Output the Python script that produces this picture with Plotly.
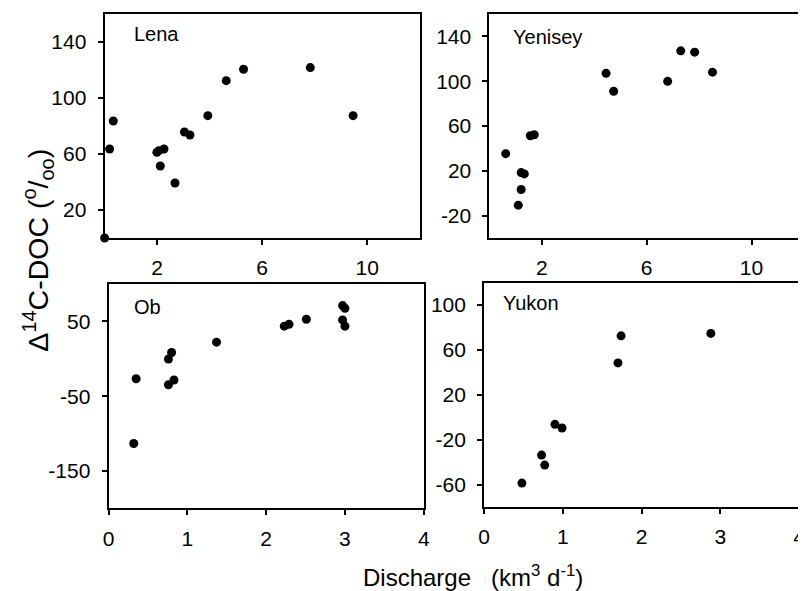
import plotly.graph_objects as go

# ---- data ----
lena_x = [0.0, 0.19, 0.33, 1.99, 2.07, 2.26, 2.12, 2.68, 3.04, 3.25, 3.93, 4.63, 5.29, 7.83, 9.46]
lena_y = [0.0, 63.6, 83.6, 61.2, 62.4, 63.6, 51.4, 39.3, 75.7, 73.6, 87.4, 112.4, 120.5, 121.7, 87.4]

yenisey_x = [0.62, 1.10, 1.21, 1.21, 1.33, 1.56, 1.71, 4.45, 4.74, 6.80, 7.30, 7.83, 8.51]
yenisey_y = [35.3, -10.7, 3.3, 18.4, 17.2, 51.3, 52.2, 107.0, 91.0, 99.9, 127.1, 125.9, 108.1]

ob_x = [0.32, 0.35, 0.76, 0.83, 0.76, 0.80, 1.37, 2.23, 2.29, 2.51, 2.97, 3.00, 2.97, 3.00]
ob_y = [-113.3, -26.7, -34.7, -28.4, -0.4, 8.4, 22.2, 43.6, 46.2, 52.9, 71.1, 67.6, 52.0, 43.6]

yukon_x = [0.48, 0.73, 0.77, 0.90, 0.99, 1.70, 1.74, 2.88]
yukon_y = [-58.7, -33.7, -42.6, -6.3, -9.6, 48.5, 72.6, 74.8]

rivers = ["Lena", "Yenisey", "Ob", "Yukon"]

lena_xticks = [2, 6, 10]
lena_yticks = [20, 60, 100, 140]
yenisey_xticks = [2, 6, 10]
yenisey_yticks = [-20, 20, 60, 100, 140]
ob_xticks = [0, 1, 2, 3, 4]
ob_yticks = [50, -50, -150]
yukon_xticks = [0, 1, 2, 3, 4]
yukon_yticks = [-60, -20, 20, 60, 100]

x_title = "Discharge&nbsp;&nbsp; (km<sup>3</sup> d<sup>-1</sup>)"
y_title = "\u0394<sup>14</sup>C-DOC (<sup>o</sup>/<sub>oo</sub>)"

# page has an 8px body margin: figure coordinates = screen - 8
OFF = 8
FW, FH = 806 - OFF, 591 - OFF
FONT = "Liberation Sans, Arial, sans-serif"

def px_x(v):
    return (v - OFF) / FW

def px_y(v):
    return 1 - (v - OFF) / FH

fig = go.Figure()

series = [(lena_x, lena_y), (yenisey_x, yenisey_y), (ob_x, ob_y), (yukon_x, yukon_y)]
for i, (xs, ys) in enumerate(series):
    n = "" if i == 0 else str(i + 1)
    fig.add_trace(go.Scatter(
        x=xs, y=ys, mode="markers", xaxis="x" + n, yaxis="y" + n,
        marker=dict(color="black", size=9, line=dict(width=0)),
        cliponaxis=False, showlegend=False))

common = dict(showline=True, linecolor="black", linewidth=2, ticks="outside",
              ticklen=5, tickwidth=1.5, tickcolor="black", showgrid=False,
              zeroline=False, tickfont=dict(family=FONT, size=21, color="black"))

panels = [
    dict(xd=(100, 420), yd=(14, 238), xr=[0, 12], yr=[0, 160], xt=lena_xticks, yt=lena_yticks, ymirror=True),
    dict(xd=(490.7, 806), yd=(14, 238), xr=[0, 11.85], yr=[-40, 160], xt=yenisey_xticks, yt=yenisey_yticks, ymirror=False),
    dict(xd=(104, 424), yd=(284, 508.3), xr=[0, 4], yr=[-200, 100], xt=ob_xticks, yt=ob_yticks, ymirror=True),
    dict(xd=(485.3, 805), yd=(282.7, 507), xr=[0, 4], yr=[-80, 120], xt=yukon_xticks, yt=yukon_yticks, ymirror=True),
]

layout = dict(width=FW, height=FH, autosize=False,
              margin=dict(l=0, r=0, t=0, b=0),
              paper_bgcolor="white", plot_bgcolor="white",
              font=dict(family=FONT, color="black"))

for i, p in enumerate(panels):
    n = "" if i == 0 else str(i + 1)
    layout["xaxis" + n] = dict(common, domain=[max(0, px_x(p["xd"][0])), min(1, px_x(p["xd"][1]))],
                               range=p["xr"], tickvals=p["xt"], ticktext=[str(v) for v in p["xt"]],
                               mirror=True, anchor="y" + n, ticklabelstandoff=5)
    layout["yaxis" + n] = dict(common, domain=[px_y(p["yd"][1]), px_y(p["yd"][0])],
                               range=p["yr"], tickvals=p["yt"], ticktext=[str(v) for v in p["yt"]],
                               mirror=p["ymirror"], anchor="x" + n, ticklabelstandoff=7)

fig.update_layout(**layout)

label_pos = [(128, 33.5), (513, 37), (128, 306.5), (502, 303)]
for name, (lx, ly) in zip(rivers, label_pos):
    fig.add_annotation(text=name, xref="paper", yref="paper", x=px_x(lx), y=px_y(ly),
                       xanchor="left", yanchor="middle", showarrow=False,
                       font=dict(family=FONT, size=20, color="black"))

fig.add_annotation(text=x_title, xref="paper", yref="paper", x=px_x(474), y=px_y(576),
                   xanchor="center", yanchor="middle", showarrow=False,
                   font=dict(family=FONT, size=24, color="black"))
fig.add_annotation(text=y_title, xref="paper", yref="paper", x=px_x(32), y=px_y(250),
                   xanchor="center", yanchor="middle", showarrow=False, textangle=-90,
                   font=dict(family=FONT, size=28.5, color="black"))

fig.write_html("out.html")
